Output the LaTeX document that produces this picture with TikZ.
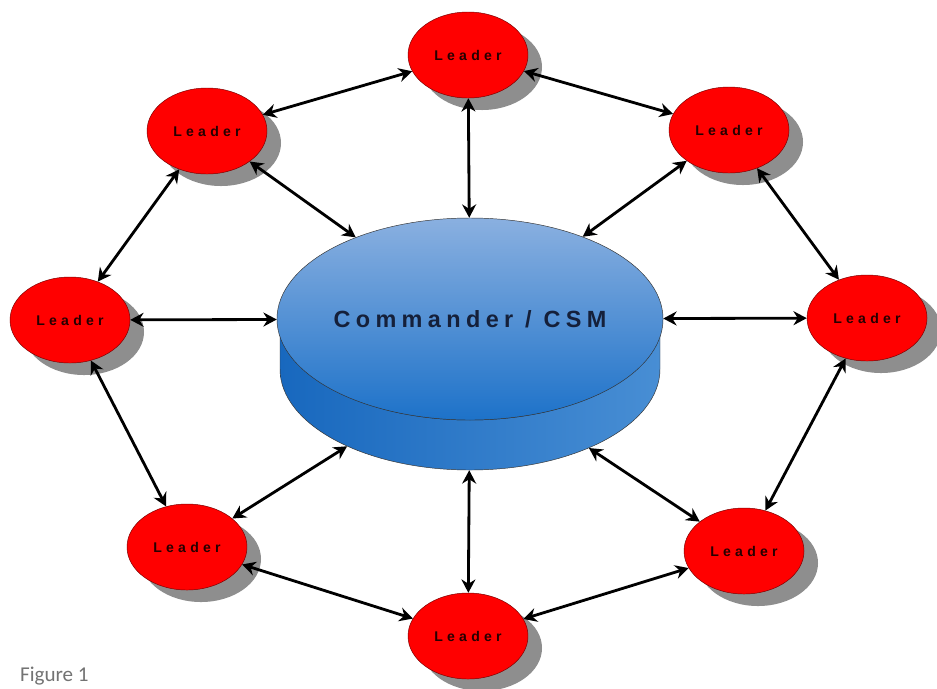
\documentclass[tikz,border=0pt]{standalone}
\usepackage{fontspec}
\usepackage{tikz}
\usetikzlibrary{shapes.geometric,shadows,arrows.meta}
\newfontfamily\leaderfont[LetterSpace=30]{Liberation Sans}
\newfontfamily\cmdfont[LetterSpace=23]{Liberation Sans}
\newfontfamily\capfont{Carlito}
\definecolor{leaderred}{RGB}{255,0,0}
\definecolor{leaderedge}{RGB}{120,0,0}
\definecolor{shadowgray}{RGB}{142,142,142}
\definecolor{cyltop}{RGB}{138,176,224}
\definecolor{cylmid}{RGB}{29,114,201}
\definecolor{cylleft}{RGB}{24,104,190}
\definecolor{cylright}{RGB}{72,142,212}
\definecolor{cmdtext}{RGB}{21,32,58}
\tikzset{
  leader/.style={ellipse,fill=leaderred,draw=leaderedge,thin,inner sep=0pt,
    minimum width=3.6cm,minimum height=2.58cm,text=black!85!red,
    font=\leaderfont\bfseries\fontsize{12}{14}\selectfont,
    drop shadow={shadow xshift=.42cm,shadow yshift=-.36cm,fill=shadowgray,opacity=1}},
  link/.style={line width=2.4pt,{Stealth[length=.4cm,width=.42cm]}-{Stealth[length=.4cm,width=.42cm]}}
}

\begin{document}
\begin{tikzpicture}[x=0.03cm,y=-0.03cm]
\fill[white] (0,0) rectangle (937,688);
\useasboundingbox (0,0) rectangle (937,688);
% cylinder
\shade[left color=cylleft,right color=cylright,draw=black!80,thin]
  (280,319) -- (280,369) arc[start angle=180,end angle=0,x radius=190,y radius=101]
  -- (660,319) arc[start angle=0,end angle=180,x radius=190,y radius=101] -- cycle;
\node[ellipse,inner sep=0pt,minimum width=11.4cm,minimum height=6.06cm,
  top color=cyltop,bottom color=cylmid,draw=black!80,thin,text=cmdtext,
  font=\cmdfont\bfseries\fontsize{20}{24}\selectfont] (cmdtop) at (470,319) {Commander / CSM};
\node[ellipse,inner sep=0pt,minimum width=11.4cm,minimum height=6.06cm] (cmdbase) at (470,369) {};
% leaders
\foreach \n/\x/\y in {ldtop/468/55,ldul/207/131,ldur/729/130,ldl/70/320,
  ldr/867/318,ldll/187/547,ldlr/744/551,ldbot/468/636}
\node[leader] (\n) at (\x,\y) {Leader};
% links to the centre
\foreach \a/\b in {ldtop/cmdtop,ldul/cmdtop,ldur/cmdtop,ldl/cmdtop,ldr/cmdtop,
  ldll/cmdbase,ldlr/cmdbase,ldbot/cmdbase}
\draw[link] (\a) -- (\b);
% links round the ring
\foreach \a/\b in {ldtop/ldul,ldul/ldl,ldl/ldll,ldll/ldbot,ldbot/ldlr,
  ldlr/ldr,ldr/ldur,ldur/ldtop}
\draw[link] (\a) -- (\b);
\node[anchor=west,text=black!55,font=\capfont\fontsize{18}{20}\selectfont] (cap) at (16,676) {Figure 1};
\end{tikzpicture}
\end{document}
